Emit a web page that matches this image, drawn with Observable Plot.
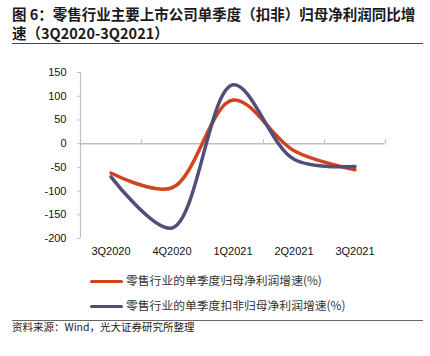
<!DOCTYPE html>
<html><head><meta charset="utf-8">
<script src="https://cdn.jsdelivr.net/npm/d3@7"></script>
<script src="https://cdn.jsdelivr.net/npm/@observablehq/plot@0.6"></script>
<style>
body{margin:0;background:#fff;}
#wrap{position:relative;width:430px;height:356px;overflow:hidden;font-family:"Noto Sans CJK SC","Noto Sans",sans-serif;}
#title{position:absolute;left:12px;top:4px;font-size:14.5px;font-weight:bold;line-height:19px;color:#1a1a1a;white-space:nowrap;}
.rule{position:absolute;left:12px;width:411px;height:0;}
#chart{position:absolute;left:0;top:50px;}
.leg{position:absolute;left:90px;font-size:11.8px;color:#333;line-height:16px;white-space:nowrap;}
.leg span.sw{display:inline-block;width:33px;height:3px;vertical-align:middle;margin-right:3px;border-radius:1.5px;}
#src{position:absolute;left:12px;top:319px;font-size:10.5px;color:#222;white-space:nowrap;}
</style></head>
<body><div id="wrap">
<div id="title">图 6：零售行业主要上市公司单季度（扣非）归母净利润同比增<br>速（3Q2020-3Q2021）</div>
<div class="rule" style="top:43px;border-top:1px solid #444;"></div>
<div id="chart"></div>
<div class="leg" id="leg1" style="top:272px;"></div>
<div class="leg" id="leg2" style="top:297px;"></div>
<div class="rule" style="top:320px;border-top:1px solid #666;"></div>
<div id="src">资料来源：Wind，光大证券研究所整理</div>
</div>
<script>
const quarters = ["3Q2020", "4Q2020", "1Q2021", "2Q2021", "3Q2021"];
const netProfitGrowth = [-62, -93, 92, -15, -55];
const deductedProfitGrowth = [-70, -178, 124, -33, -48];
const seriesNames = ["零售行业的单季度归母净利润增速(%)", "零售行业的单季度扣非归母净利润增速(%)"];
const seriesColors = ["#cf4520", "#514e78"];
const yTicks = [-200, -150, -100, -50, 0, 50, 100, 150];

const rows = [];
quarters.forEach((q, i) => {
  rows.push({i, q, v: netProfitGrowth[i], s: seriesNames[0]});
  rows.push({i, q, v: deductedProfitGrowth[i], s: seriesNames[1]});
});
const bounds = d3.range(quarters.length + 1).map(k => k - 0.5);

const chart = Plot.plot({
  width: 430,
  height: 215,
  marginLeft: 80,
  marginRight: 45,
  marginTop: 22,
  marginBottom: 27,
  style: {fontFamily: "'Liberation Sans', Arial, sans-serif", fontSize: "11px", color: "#111", background: "#fff"},
  x: {domain: [-0.5, quarters.length - 0.5], axis: null, label: null},
  y: {domain: [-200, 150], axis: null, label: null},
  color: {domain: seriesNames, range: seriesColors},
  marks: [
    Plot.ruleX([-0.5], {stroke: "#c0c0c0", strokeWidth: 1.2}),
    Plot.ruleY([0], {x1: -0.5, x2: quarters.length - 0.5, stroke: "#c0c0c0", strokeWidth: 1.5}),
    Plot.ruleX(bounds, {y1: 0, y2: 0, insetTop: -4, stroke: "#c0c0c0", strokeWidth: 1.2}),
    Plot.axisY({ticks: yTicks, tickFormat: d => String(d), tickSize: 3, tickPadding: 11, stroke: "#c0c0c0", fill: "#111", fontSize: 11, label: null}),
    Plot.axisX({ticks: d3.range(quarters.length), tickFormat: i => quarters[i], tickSize: 0, tickPadding: 9, fill: "#111", fontSize: 11, anchor: "bottom", label: null}),
    Plot.line(rows, {x: "i", y: "v", z: "s", stroke: "s", strokeWidth: 3.5, curve: "catmull-rom"})
  ]
});
document.getElementById("chart").appendChild(chart);

[["leg1", 0], ["leg2", 1]].forEach(([id, k]) => {
  const el = document.getElementById(id);
  const sw = document.createElement("span");
  sw.className = "sw";
  sw.style.background = seriesColors[k];
  el.appendChild(sw);
  el.appendChild(document.createTextNode(seriesNames[k]));
});
</script>
</body></html>
